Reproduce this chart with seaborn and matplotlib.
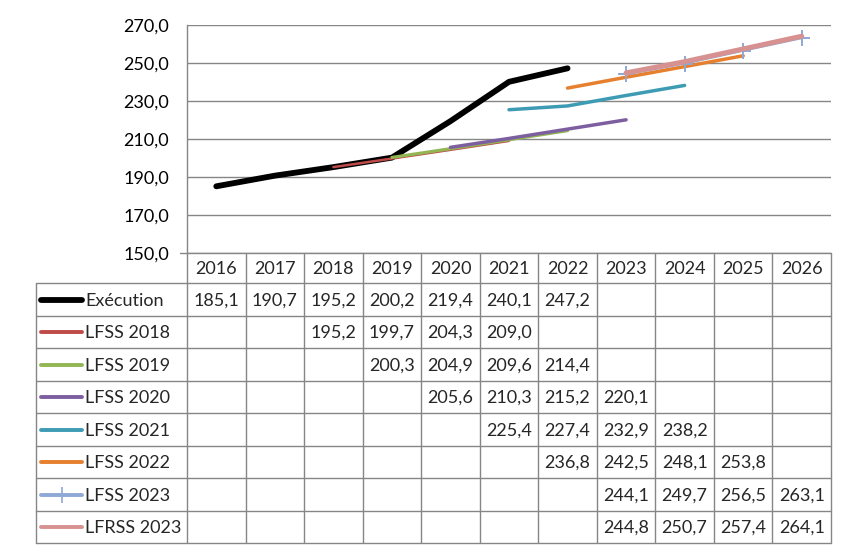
import numpy as np
import pandas as pd
import matplotlib
matplotlib.use("Agg")
import matplotlib.pyplot as plt
import seaborn as sns

nan = np.nan

years = [2016, 2017, 2018, 2019, 2020, 2021, 2022, 2023, 2024, 2025, 2026]
execution = [185.1, 190.7, 195.2, 200.2, 219.4, 240.1, 247.2, nan, nan, nan, nan]
lfss_2018 = [nan, nan, 195.2, 199.7, 204.3, 209.0, nan, nan, nan, nan, nan]
lfss_2019 = [nan, nan, nan, 200.3, 204.9, 209.6, 214.4, nan, nan, nan, nan]
lfss_2020 = [nan, nan, nan, nan, 205.6, 210.3, 215.2, 220.1, nan, nan, nan]
lfss_2021 = [nan, nan, nan, nan, nan, 225.4, 227.4, 232.9, 238.2, nan, nan]
lfss_2022 = [nan, nan, nan, nan, nan, nan, 236.8, 242.5, 248.1, 253.8, nan]
lfss_2023 = [nan, nan, nan, nan, nan, nan, nan, 244.1, 249.7, 256.5, 263.1]
lfrss_2023 = [nan, nan, nan, nan, nan, nan, nan, 244.8, 250.7, 257.4, 264.1]

series_names = ["Exécution", "LFSS 2018", "LFSS 2019", "LFSS 2020",
                "LFSS 2021", "LFSS 2022", "LFSS 2023", "LFRSS 2023"]
series_values = [execution, lfss_2018, lfss_2019, lfss_2020,
                 lfss_2021, lfss_2022, lfss_2023, lfrss_2023]
y_ticks = [150, 170, 190, 210, 230, 250, 270]

# style per series: colour, width, marker
styles = {
    "Exécution": ("#000000", 4.2, None),
    "LFSS 2018": ("#BE4B48", 1.8, None),
    "LFSS 2019": ("#93B654", 2.3, None),
    "LFSS 2020": ("#7D5FA0", 2.5, None),
    "LFSS 2021": ("#3E9BB4", 2.5, None),
    "LFSS 2022": ("#E67F2E", 2.5, None),
    "LFSS 2023": ("#8EA9D5", 1.6, "+"),
    "LFRSS 2023": ("#D69190", 3.6, None),
}

sns.set_theme(style="white")
plt.rcParams["font.family"] = ["Lato", "DejaVu Sans"]
FS = 13
GRID = "#868686"

W, H = 855, 554
fig = plt.figure(figsize=(W / 100, H / 100), dpi=100)

# layout in pixels
x_left, x_right = 187, 831
y_top, y_axis = 25, 253
table_left = 35.7
header_bottom = 283.3
row_h = 32.5
col_w = (x_right - x_left) / len(years)

# overlay axes in pixel coordinates for the data table
tab = fig.add_axes([0, 0, 1, 1])
tab.set_xlim(0, W)
tab.set_ylim(H, 0)
tab.axis("off")

ax = fig.add_axes([x_left / W, 1 - y_axis / H, (x_right - x_left) / W, (y_axis - y_top) / H])
ax.set_facecolor("none")

idx = list(range(len(years)))
for name, vals in zip(series_names, series_values):
    color, lw, marker = styles[name]
    df = pd.DataFrame({"x": idx, "y": vals}).dropna()
    sns.lineplot(data=df, x="x", y="y", ax=ax, color=color, linewidth=lw,
                 marker=marker, markersize=12, markeredgewidth=1.4,
                 markeredgecolor=color, solid_capstyle="round", zorder=3)

ax.set_xlim(-0.5, len(years) - 0.5)
ax.set_ylim(150, 270)
ax.set_yticks(y_ticks)
ax.set_yticklabels([f"{v:.1f}".replace(".", ",") for v in y_ticks], fontsize=FS)
ax.set_xticks([])
ax.set_xlabel("")
ax.set_ylabel("")
ax.grid(axis="y", color=GRID, linewidth=1.0)
for s in ["top", "right", "bottom"]:
    ax.spines[s].set_visible(False)
ax.spines["left"].set_color(GRID)
ax.spines["left"].set_linewidth(1.0)
ax.tick_params(axis="y", length=5, width=1.0, color=GRID, pad=8, labelcolor="#000000")
ax.tick_params(axis="x", length=0)

# table grid
table_bottom = header_bottom + row_h * len(series_names)
lc = dict(color=GRID, linewidth=1.0)
tab.plot([x_left - 7, x_right], [y_axis, y_axis], **lc)
for i in range(len(series_names) + 1):
    yy = header_bottom + i * row_h
    tab.plot([table_left, x_right], [yy, yy], **lc)
for j in range(len(years) + 1):
    xx = x_left + j * col_w
    tab.plot([xx, xx], [y_axis, table_bottom], **lc)
tab.plot([table_left, table_left], [header_bottom, table_bottom], **lc)

# header
for j, yr in enumerate(years):
    tab.text(x_left + (j + 0.5) * col_w, (y_axis + header_bottom) / 2 + 1, str(yr),
             ha="center", va="center", fontsize=FS)

# rows
for i, (name, vals) in enumerate(zip(series_names, series_values)):
    yc = header_bottom + (i + 0.5) * row_h
    color, lw, marker = styles[name]
    key_lw = 4.2 if name == "Exécution" else 2.8
    tab.plot([41, 82], [yc, yc], color=color, linewidth=key_lw, solid_capstyle="round")
    if marker:
        tab.plot([61.5], [yc], marker=marker, color=color, markersize=12, markeredgewidth=1.2)
    tab.text(85, yc + 1, name, ha="left", va="center", fontsize=FS)
    for j, v in enumerate(vals):
        if not np.isnan(v):
            tab.text(x_left + (j + 0.5) * col_w, yc + 1, f"{v:.1f}".replace(".", ","),
                     ha="center", va="center", fontsize=FS)

fig.savefig("out.png", dpi=100)
